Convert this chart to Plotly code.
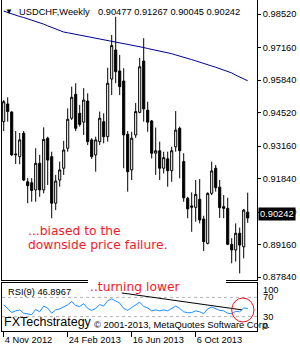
import pandas as pd
import plotly.graph_objects as go

# ---------------- data ----------------
week_start = "2012-11-04"
n_weeks = 62
dates = pd.date_range(week_start, periods=n_weeks, freq="7D")

open_ = [0.9415, 0.9487, 0.9454, 0.9280, 0.9273, 0.9368, 0.9171, 0.9167, 0.9138, 0.9246,
         0.9138, 0.9348, 0.9273, 0.9084, 0.9178, 0.9226, 0.9307, 0.9429, 0.9526, 0.9449,
         0.9413, 0.9499, 0.9341, 0.9280, 0.9334, 0.9415, 0.9354, 0.9588, 0.9706, 0.9621,
         0.9580, 0.9364, 0.9219, 0.9361, 0.9453, 0.9661, 0.9462, 0.9418, 0.9287, 0.9297,
         0.9226, 0.9264, 0.9216, 0.9313, 0.9388, 0.9253, 0.9104, 0.9073, 0.9067, 0.9100,
         0.9020, 0.8921, 0.9124, 0.9226, 0.9149, 0.9070, 0.9063, 0.8917, 0.8894, 0.8962,
         0.8907, 0.90477]
high = [0.9503, 0.9514, 0.9458, 0.9377, 0.9369, 0.9377, 0.9186, 0.9186, 0.9307, 0.9280,
        0.9392, 0.9354, 0.9293, 0.9199, 0.9253, 0.9337, 0.9469, 0.9557, 0.9571, 0.9483,
        0.9551, 0.9530, 0.9348, 0.9354, 0.9456, 0.9449, 0.9634, 0.9767, 0.9841, 0.9686,
        0.9632, 0.9377, 0.9374, 0.9491, 0.9674, 0.9754, 0.9496, 0.9422, 0.9391, 0.9334,
        0.9293, 0.9293, 0.9313, 0.9458, 0.9395, 0.9287, 0.9110, 0.9128, 0.9178, 0.9182,
        0.9033, 0.9128, 0.9253, 0.9239, 0.9178, 0.9117, 0.9106, 0.8942, 0.9002, 0.8985,
        0.9061, 0.91267]
low = [0.9377, 0.9415, 0.9276, 0.9243, 0.9242, 0.9174, 0.9084, 0.9090, 0.9090, 0.9110,
       0.9124, 0.9158, 0.9023, 0.9056, 0.9151, 0.9199, 0.9293, 0.9422, 0.9377, 0.9395,
       0.9361, 0.9320, 0.9264, 0.9212, 0.9320, 0.9327, 0.9334, 0.9523, 0.9571, 0.9523,
       0.9226, 0.9131, 0.9178, 0.9349, 0.9449, 0.9415, 0.9374, 0.9266, 0.9199, 0.9178,
       0.9205, 0.9151, 0.9171, 0.9293, 0.9185, 0.9090, 0.9023, 0.8968, 0.9009, 0.9002,
       0.8890, 0.8917, 0.9117, 0.9131, 0.9024, 0.9023, 0.8914, 0.8840, 0.8847, 0.8799,
       0.8860, 0.90045]
close = [0.9496, 0.9456, 0.9280, 0.9283, 0.9341, 0.9178, 0.9155, 0.9136, 0.9246, 0.9138,
         0.9343, 0.9259, 0.9084, 0.9174, 0.9219, 0.9300, 0.9425, 0.9514, 0.9388, 0.9404,
         0.9503, 0.9334, 0.9273, 0.9341, 0.9429, 0.9354, 0.9571, 0.9724, 0.9618, 0.9557,
         0.9361, 0.9212, 0.9348, 0.9456, 0.9638, 0.9467, 0.9413, 0.9287, 0.9297, 0.9226,
         0.9269, 0.9216, 0.9297, 0.9381, 0.9297, 0.9106, 0.9061, 0.9068, 0.9120, 0.9016,
         0.8928, 0.9124, 0.9215, 0.9147, 0.9066, 0.9063, 0.8917, 0.8894, 0.8962, 0.8914,
         0.9056, 0.90242]
moving_avg = [0.9864, 0.9858, 0.9853, 0.9847, 0.9842, 0.9838, 0.9833, 0.9829, 0.9824, 0.9817,
              0.9811, 0.9804, 0.9798, 0.9791, 0.9784, 0.9779, 0.9776, 0.9773, 0.9769, 0.9766,
              0.9763, 0.9760, 0.9756, 0.9753, 0.9751, 0.9748, 0.9745, 0.9743, 0.9739, 0.9736,
              0.9733, 0.9729, 0.9725, 0.9722, 0.9719, 0.9716, 0.9712, 0.9709, 0.9706, 0.9703,
              0.9699, 0.9695, 0.9691, 0.9686, 0.9682, 0.9677, 0.9672, 0.9667, 0.9662, 0.9656,
              0.9651, 0.9646, 0.9641, 0.9636, 0.9631, 0.9626, 0.9620, 0.9613, 0.9604, 0.9597,
              0.9589, 0.9581]
rsi = [54.6, 45.6, 38.4, 42.0, 44.0, 37.0, 35.7, 34.0, 45.0, 40.0,
       52.0, 47.7, 37.0, 44.0, 46.0, 50.0, 54.6, 61.6, 53.0, 51.0,
       57.0, 47.0, 43.0, 47.0, 55.0, 52.0, 63.0, 67.0, 62.0, 58.0,
       47.0, 43.0, 49.0, 54.0, 60.0, 51.0, 48.0, 42.0, 44.0, 42.0,
       44.0, 42.0, 47.0, 52.0, 47.0, 40.0, 38.0, 38.5, 42.0, 40.0,
       36.0, 46.0, 50.0, 47.0, 43.0, 42.0, 37.0, 36.0, 41.0, 40.0,
       48.0, 46.8967]

price_ticks = [0.98520, 0.97160, 0.95840, 0.94520, 0.93160, 0.91840, 0.90480, 0.89160, 0.87840]
date_tick_index = [0, 16, 32, 48]
date_tick_text = ["4 Nov 2012", "24 Feb 2013", "16 Jun 2013", "6 Oct 2013"]
rsi_levels = [70, 30]
rsi_tick_values = [100, 70, 30, 0]
rsi_tick_text = ["100", "70", "30", "0"]
trend_dates = ["2013-05-29 12:00", "2013-12-25 12:00"]
trend_rsi = [79.3, 44.1]

symbol = "USDCHF,Weekly"
rsi_name = "RSI(9)"

# ---------------- layout helpers (pixels -> paper) ----------------
W, H = 300, 350
ML, MR, MT, MB = 2, 43, 0, 19
PW, PH = W - ML - MR, H - MT - MB


def pxx(x):
    return (x - ML) / PW


def pxy(y):
    return (H - MB - y) / PH


FONT = "Liberation Sans"
RED = "#f21b2d"

week = pd.Timedelta(days=7)
x_range = [dates[0] - 0.425 * week, dates[0] + 63.325 * week]

fig = go.Figure()
fig.add_trace(go.Candlestick(
    x=dates, open=open_, high=high, low=low, close=close,
    xaxis="x", yaxis="y",
    increasing=dict(line=dict(color="black", width=1), fillcolor="white"),
    decreasing=dict(line=dict(color="black", width=1), fillcolor="black"),
    whiskerwidth=0, showlegend=False, hoverinfo="skip"))
fig.add_trace(go.Scatter(x=dates, y=moving_avg, mode="lines", xaxis="x", yaxis="y",
                         line=dict(color="#000090", width=1), showlegend=False, hoverinfo="skip"))
fig.add_trace(go.Scatter(x=dates, y=rsi, mode="lines", xaxis="x2", yaxis="y2",
                         line=dict(color="#1e90ff", width=1), showlegend=False, hoverinfo="skip"))
fig.add_trace(go.Scatter(x=pd.to_datetime(trend_dates), y=trend_rsi, mode="lines", xaxis="x2", yaxis="y2",
                         line=dict(color="black", width=1), showlegend=False, hoverinfo="skip"))

main_bottom = (H - MB - 280) / PH
rsi_top = (H - MB - 283) / PH

axis_font = dict(family=FONT, size=9.3, color="black")

fig.update_layout(
    width=W, height=H,
    margin=dict(l=ML, r=MR, t=MT, b=MB),
    paper_bgcolor="white", plot_bgcolor="white",
    showlegend=False,
    boxgap=0.25, boxgroupgap=0.3,
    xaxis=dict(domain=[0, 1], anchor="y", type="date", range=x_range,
               showticklabels=False, ticks="", showgrid=False, zeroline=False,
               showline=True, linecolor="black", linewidth=1, mirror=False,
               rangeslider=dict(visible=False)),
    xaxis2=dict(domain=[0, 1], anchor="y2", type="date", range=x_range, matches="x",
                tickvals=[dates[i] for i in date_tick_index], ticktext=date_tick_text,
                ticks="outside", ticklen=5, tickcolor="black", tickwidth=1,
                ticklabelposition="outside right", tickfont=axis_font,
                showgrid=False, zeroline=False,
                showline=True, linecolor="black", linewidth=1, mirror=True,
                rangeslider=dict(visible=False)),
    yaxis=dict(domain=[main_bottom, 1], anchor="x", side="right",
               range=[0.87722, 0.9909],
               tickvals=price_ticks, ticktext=[f"{v:.5f}" for v in price_ticks],
               ticks="outside", ticklen=3, tickcolor="black", tickfont=axis_font,
               showgrid=False, zeroline=False,
               showline=True, linecolor="black", linewidth=1, mirror=True),
    yaxis2=dict(domain=[0, rsi_top], anchor="x2", side="right", range=[0, 100],
                showticklabels=False, ticks="", showgrid=False, zeroline=False,
                showline=True, linecolor="black", linewidth=1, mirror=True),
)

shapes = []
for lv in rsi_levels:
    shapes.append(dict(type="line", xref="x2 domain", x0=0, x1=1, yref="y2", y0=lv, y1=lv,
                       line=dict(color="#b4b4b4", width=1, dash="3px,3px"), layer="below"))
# white box behind "..turning lower"
shapes.append(dict(type="rect", xref="paper", yref="paper",
                   x0=pxx(88), x1=pxx(226), y0=pxy(292), y1=pxy(276),
                   fillcolor="white", line=dict(width=0), layer="above"))
# red ellipse
shapes.append(dict(type="circle", xref="paper", yref="paper",
                   x0=pxx(231.7), x1=pxx(254), y0=pxy(322), y1=pxy(298),
                   line=dict(color="#e8101e", width=1), fillcolor="rgba(0,0,0,0)", layer="above"))
fig.update_layout(shapes=shapes)

ann = []


def text(x, y, s, size=9.3, color="black", family=FONT, **kw):
    ann.append(dict(xref="paper", yref="paper", x=pxx(x), y=pxy(y), text=s, showarrow=False,
                    xanchor="left", yanchor="middle", font=dict(family=family, size=size, color=color),
                    borderpad=0, **kw))


text(4, 11.5, "▼", size=8)
text(18, 11.7, symbol)
text(97, 11.7, " ".join(f"{v:.5f}" for v in [open_[-1], high[-1], low[-1], close[-1]]))
text(26.5, 231, "...biased to the", size=12.3, color=RED, family="DejaVu Sans")
text(26.5, 245, "downside price failure.", size=12.3, color=RED, family="DejaVu Sans")
text(89, 286.5, "..turning lower", size=12.3, color=RED, family="DejaVu Sans")
text(7, 291.7, f"{rsi_name} {rsi[-1]:.4f}")
text(3, 322, "FXTechstrategy", size=12.5)
text(93, 324, "© 2001-2013, MetaQuotes Software Corp.", size=9.4)

# RSI scale labels
shifts = {100: -6.5, 70: 0, 30: 0, 0: 5}
for v, t in zip(rsi_tick_values, rsi_tick_text):
    ann.append(dict(xref="paper", yref="y2", x=1, y=v, xshift=5, yshift=shifts[v], text=t,
                    showarrow=False, xanchor="left", yanchor="middle", font=axis_font, borderpad=0))

# current price label
ann.append(dict(xref="paper", yref="y", x=1, y=close[-1], xshift=1, yshift=4,
                text=f"{close[-1]:.5f}", showarrow=False, xanchor="left", yanchor="middle",
                font=dict(family=FONT, size=9.3, color="white"), bgcolor="black", borderpad=1))
fig.update_layout(annotations=ann)

fig.write_html("out.html")
